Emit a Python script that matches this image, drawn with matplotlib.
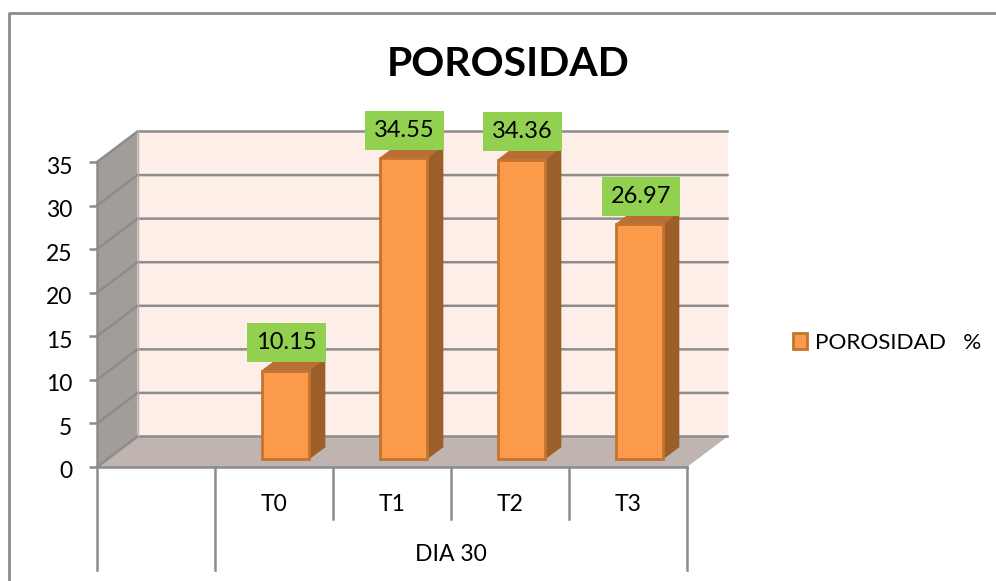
import matplotlib
matplotlib.use('Agg')
import matplotlib.pyplot as plt
import matplotlib.transforms as mtrans
from matplotlib.patches import Polygon
from matplotlib.lines import Line2D

plt.rcParams['font.family'] = ['Lato', 'DejaVu Sans']

# data
categories = ['T0', 'T1', 'T2', 'T3']
porosidad = [10.15, 34.55, 34.36, 26.97]
value_labels = ['10.15', '34.55', '34.36', '26.97']
y_ticks = [0, 5, 10, 15, 20, 25, 30, 35]
group_label = 'DIA 30'
series_name = 'POROSIDAD   %'
chart_title = 'POROSIDAD'

# colours
wall_back = '#fdeee7'
wall_side = '#a39d99'
floor = '#bfb4af'
grid_col = '#8c8c8c'
bar_front = '#fb9a4a'
bar_edge = '#c4742f'
bar_side = '#9c5f2a'
bar_top = '#b86f36'
label_bg = '#92d050'

W, H = 996, 581
fig = plt.figure(figsize=(W / 100, H / 100), dpi=100)
fig.patch.set_facecolor('white')
ax = fig.add_axes([97 / W, (H - 467) / H, 590 / W, 305 / H])
ax.set_xlim(0, 5)
ax.set_ylim(0, 35)
ax.patch.set_visible(False)

# depth of the 3d box in data units
dx, dy = 40.5 / 118, 30.5 / 8.714

# walls and floor
ax.add_patch(Polygon([(dx, dy), (5 + dx, dy), (5 + dx, 35 + dy), (dx, 35 + dy)],
                     fc=wall_back, ec='none', clip_on=False, zorder=1))
ax.add_patch(Polygon([(0, 0), (dx, dy), (dx, 35 + dy), (0, 35)],
                     fc=wall_side, ec='none', clip_on=False, zorder=1))
ax.add_patch(Polygon([(0, 0), (5, 0), (5 + dx, dy), (dx, dy)],
                     fc=floor, ec='none', clip_on=False, zorder=1))

# gridlines on back and side wall
for v in y_ticks:
    ax.plot([0, dx, 5 + dx], [v, v + dy, v + dy], color=grid_col, lw=1.8,
            clip_on=False, zorder=2, solid_joinstyle='miter')
ax.plot([dx, dx], [dy, 35 + dy], color='#b5b0ac', lw=1, clip_on=False, zorder=2)

# bars, sitting part way into the depth of the floor
off_x, off_y = 11.5 / 118, 8 / 8.714
bar_w = 47 / 118
side_x, side_y = 16 / 118, 12 / 8.714
for i, (cat, val) in enumerate(zip(categories, porosidad)):
    left = i + 1.5 + off_x - bar_w / 2
    right = left + bar_w
    top = off_y + val
    ax.add_patch(Polygon([(right, off_y), (right + side_x, off_y + side_y),
                          (right + side_x, top + side_y), (right, top)],
                         fc=bar_side, ec=bar_side, lw=0.5, clip_on=False, zorder=3))
    ax.add_patch(Polygon([(left, top), (right, top), (right + side_x, top + side_y),
                          (left + side_x, top + side_y)],
                         fc=bar_top, ec=bar_top, lw=0.5, clip_on=False, zorder=3))

bars = ax.bar([i + 1.5 + off_x for i in range(4)], porosidad, width=bar_w, bottom=off_y,
              color=bar_front, edgecolor=bar_edge, linewidth=2, zorder=4, clip_on=False,
              label=series_name)

for b, txt in zip(bars, value_labels):
    ax.annotate(txt, (b.get_x() + b.get_width() / 2 + 0.01, b.get_y() + b.get_height()),
                xytext=(0, 20), textcoords='offset points', ha='center', va='center',
                fontsize=17, color='black', zorder=6, annotation_clip=False,
                bbox=dict(boxstyle='square,pad=0.38', fc=label_bg, ec='none'))

# axes
for s in ['top', 'right']:
    ax.spines[s].set_visible(False)
for s in ['left', 'bottom']:
    ax.spines[s].set_color(grid_col)
    ax.spines[s].set_linewidth(1.8)
    ax.spines[s].set_zorder(5)
ax.set_yticks(y_ticks)
ax.tick_params(axis='y', length=5.8, width=1.8, color=grid_col, labelsize=16.5, pad=12)
# value labels sit a little under their ticks in the original
shift = mtrans.ScaledTranslation(0, -3 / 100, fig.dpi_scale_trans)
for lab in ax.get_yticklabels():
    lab.set_transform(lab.get_transform() + shift)

# two level category axis
ax.set_xticks([1.5, 2.5, 3.5, 4.5])
ax.set_xticklabels(categories, fontsize=16.5)
ax.tick_params(axis='x', length=0, pad=19.5)
px = 8.714
for x in [0, 1, 5]:
    ax.plot([x, x], [0, -103 / px], color=grid_col, lw=1.8, clip_on=False, zorder=2)
for x in [2, 3, 4]:
    ax.plot([x, x], [0, -52 / px], color=grid_col, lw=1.8, clip_on=False, zorder=2)
ax.text(3, -87 / px, group_label, ha='center', va='center', fontsize=16.5)

fig.text(508 / W, 1 - 65 / H, chart_title, ha='center', va='center', fontsize=29.5, fontweight='bold')

ax.legend(loc='center left', bbox_to_anchor=(696 / 590, 124 / 305), frameon=False,
          fontsize=16.2, handlelength=0.62, handleheight=0.75, handletextpad=0.34, borderpad=0,
          borderaxespad=0)

# outer chart border
fig.add_artist(Line2D([9 / W, 9 / W, 1], [0, 1 - 13 / H, 1 - 13 / H], color=grid_col, lw=2))

fig.savefig('out.png', dpi=100)
